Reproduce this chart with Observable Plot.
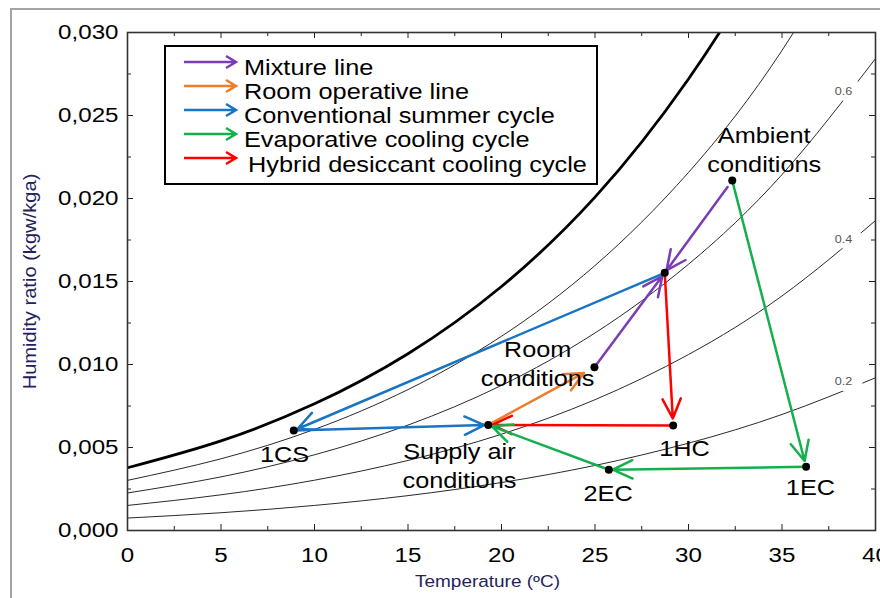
<!DOCTYPE html>
<html><head><meta charset="utf-8">
<script src="https://cdn.jsdelivr.net/npm/d3@7"></script>
<script src="https://cdn.jsdelivr.net/npm/@observablehq/plot@0.6"></script>
<style>
html,body{margin:0;padding:0;background:#fff;overflow:hidden;width:880px;height:598px;}
#wrap{position:relative;width:880px;height:598px;font-family:Arial,"Liberation Sans",sans-serif;overflow:hidden;}
#outer{position:absolute;left:10px;top:8px;width:900px;height:620px;border-left:2px solid #a3a3a3;border-top:2px solid #a3a3a3;}
#chart{position:absolute;left:0;top:0;}
#legend{position:absolute;left:164px;top:45px;width:430px;height:136px;border:2.5px solid #000;background:#fff;}
.ltext{position:absolute;font-size:22px;line-height:22px;color:#000;transform:scaleX(1.15);transform-origin:0 50%;white-space:nowrap;}
</style></head><body>
<div id="wrap"><div id="outer"></div><div id="chart"></div><div id="legend"></div></div>
<script>
// ---------- data ----------
const xTicks = [0, 5, 10, 15, 20, 25, 30, 35, 40];
const xMinorTicks = [2.5, 7.5, 12.5, 17.5, 22.5, 27.5, 32.5, 37.5];
const yTicks = [0, 0.005, 0.010, 0.015, 0.020, 0.025, 0.030];
const yMinorTicks = [0.0025, 0.0075, 0.0125, 0.0175, 0.0225, 0.0275];

// relative humidity curves (temperature °C -> humidity ratio)
const curveT = [0, 5, 10, 15, 20, 25, 30, 35, 40];
const rh100 = [0.00378, 0.00540, 0.00763, 0.01065, 0.01470, 0.02008, 0.02720, 0.03657, 0.04887];
const rh80  = [0.00302, 0.00432, 0.00609, 0.00849, 0.01170, 0.01596, 0.02157, 0.02892, 0.03849];
const rh60  = [0.00226, 0.00323, 0.00456, 0.00635, 0.00874, 0.01190, 0.01604, 0.02144, 0.02843];
const rh40  = [0.00151, 0.00215, 0.00303, 0.00422, 0.00580, 0.00788, 0.01060, 0.01413, 0.01867];
const rh20  = [0.00075, 0.00107, 0.00151, 0.00210, 0.00289, 0.00392, 0.00526, 0.00699, 0.00920];

const rhLabelText = ["0.6", "0.4", "0.2"];
const rhLabelT = [38.29, 38.29, 38.29];
const rhLabelW = [0.02646, 0.01753, 0.00898];

// state points
const pointName = ["Ambient", "Mix", "Room", "Supply", "1CS", "1HC", "1EC", "2EC"];
const pointT = [32.34, 28.73, 24.97, 19.29, 8.89, 29.18, 36.29, 25.74];
const pointW = [0.02108, 0.01552, 0.00984, 0.00636, 0.00602, 0.00633, 0.00384, 0.00366];

// process arrows
const arrowFrom   = ["Ambient", "Room", "Mix", "1CS", "Supply", "Mix", "1HC", "Ambient", "1EC", "2EC"];
const arrowTo     = ["Mix", "Mix", "1CS", "Supply", "Room", "1HC", "Supply", "1EC", "2EC", "Supply"];
const arrowSeries = ["Mixture line", "Mixture line", "Conventional summer cycle", "Conventional summer cycle",
  "Room operative line", "Hybrid desiccant cooling cycle", "Hybrid desiccant cooling cycle",
  "Evaporative cooling cycle", "Evaporative cooling cycle", "Evaporative cooling cycle"];

// legend
const seriesNames = ["Mixture line", "Room operative line", "Conventional summer cycle",
  "Evaporative cooling cycle", "Hybrid desiccant cooling cycle"];
const seriesColors = ["#7b3db5", "#ee7d2b", "#1a74c4", "#14b04c", "#ff0000"];

// text labels
const labelText = ["Ambient\nconditions", "Room\nconditions", "Supply air\nconditions", "1CS", "1HC", "2EC", "1EC"];
const labelT = [34.05, 21.93, 17.75, 8.40, 29.79, 25.70, 36.52];
const labelW = [0.02301, 0.01012, 0.00401, 0.0047, 0.00506, 0.00231, 0.00268];

// ---------- build ----------
const W = 880, H = 598, mL = 127, mR = 5, mT = 32, mB = 68;
const FW = W - mL - mR, FH = H - mT - mB;

const thinCurves = [[0.8, rh80], [0.6, rh60], [0.4, rh40], [0.2, rh20]]
  .flatMap(([lvl, arr]) => curveT.map((t, i) => ({T: t, w: arr[i], level: lvl})));
const satCurve = curveT.map((t, i) => ({T: t, w: rh100[i]}));

const pIdx = new Map(pointName.map((n, i) => [n, i]));
const colorOf = s => seriesColors[seriesNames.indexOf(s)];
const arrows = arrowFrom.map((f, i) => ({
  key: f + ">" + arrowTo[i],
  x1: pointT[pIdx.get(f)], y1: pointW[pIdx.get(f)],
  x2: pointT[pIdx.get(arrowTo[i])], y2: pointW[pIdx.get(arrowTo[i])],
  color: colorOf(arrowSeries[i])
}));
const arrowInsets = {"Ambient>Mix": [8, 3], "Supply>Room": [0, 12], "Mix>1HC": [0, 7], "Ambient>1EC": [0, 6]};

const rhLabels = rhLabelText.map((t, i) => ({text: t, T: rhLabelT[i], w: rhLabelW[i]}));
const labels = labelText.map((t, i) => ({text: t, T: labelT[i], w: labelW[i]}));

const tickStroke = "#222";
const marks = [
  Plot.line(thinCurves, {x: "T", y: "w", z: "level", curve: "natural", clip: true, stroke: "#2a2a2a", strokeWidth: 1}),
  Plot.line(satCurve, {x: "T", y: "w", curve: "natural", clip: true, stroke: "#000", strokeWidth: 2.8}),
  // gaps in the curves behind the contour labels
  Plot.dot(rhLabels, {x: "T", y: "w", dx: 7, r: 12, fill: "white", stroke: "none"}),
  Plot.text(rhLabels, {x: "T", y: "w", text: "text", fontSize: 11, fill: "#555"}),
  // inward ticks
  Plot.ruleX(xTicks, {x: d => d, insetTop: FH - 6, stroke: tickStroke}),
  Plot.ruleX(xTicks, {x: d => d, insetBottom: FH - 6, stroke: tickStroke}),
  Plot.ruleX(xMinorTicks, {x: d => d, insetTop: FH - 4, stroke: tickStroke}),
  Plot.ruleX(xMinorTicks, {x: d => d, insetBottom: FH - 4, stroke: tickStroke}),
  Plot.ruleY(yTicks, {y: d => d, insetRight: FW - 6, stroke: tickStroke}),
  Plot.ruleY(yTicks, {y: d => d, insetLeft: FW - 6, stroke: tickStroke}),
  Plot.ruleY(yMinorTicks, {y: d => d, insetRight: FW - 4, stroke: tickStroke}),
  Plot.ruleY(yMinorTicks, {y: d => d, insetLeft: FW - 4, stroke: tickStroke}),
  Plot.frame({stroke: "#333", strokeWidth: 1.6}),
  Plot.axisX(xTicks, {anchor: "bottom", tickSize: 0, tickPadding: 17, fontSize: 21, label: null, tickFormat: d => String(d)}),
  Plot.axisY(yTicks, {anchor: "left", tickSize: 0, tickPadding: 9, fontSize: 21, label: null, tickFormat: d => d.toFixed(3).replace(".", ",")}),
  Plot.text(["Temperature (ºC)"], {text: d => d, frameAnchor: "bottom", dy: 51, dx: -14, textAnchor: "middle", lineAnchor: "middle", fontSize: 16.5, fill: "#23235e", ariaLabel: "axis title"}),
  Plot.text(["Humidity ratio (kgw/kga)"], {text: d => d, frameAnchor: "left", dx: -97, rotate: -90, textAnchor: "middle", lineAnchor: "middle", fontSize: 17.5, fill: "#23235e", ariaLabel: "axis title"}),
  ...arrows.map(a => {
    const [s, e] = arrowInsets[a.key] || [0, 4];
    return Plot.arrow([a], {x1: "x1", y1: "y1", x2: "x2", y2: "y2", stroke: a.color, strokeWidth: 2.5,
      headLength: 13, headAngle: 50, insetStart: s, insetEnd: e});
  }),
  Plot.dot(pointName, {x: pointT, y: pointW, r: 4, fill: "#000"}),
  Plot.text(labels, {x: "T", y: "w", text: "text", fontSize: 22, lineHeight: 1.32, fill: "#000"})
];

const svg = Plot.plot({
  width: W, height: H, marginLeft: mL, marginRight: mR, marginTop: mT, marginBottom: mB,
  x: {domain: [0, 40]}, y: {domain: [0, 0.03]},
  style: {background: "transparent", fontFamily: "Arial, 'Liberation Sans', sans-serif", color: "#000"},
  marks
});

// horizontal stretch of text (the reference is horizontally stretched)
const S = 1.15;
svg.querySelectorAll("text").forEach(t => {
  if (t.closest('g[aria-label="axis title"]')) return;
  const x = parseFloat(t.getAttribute("x")) || 0;
  const tr = t.getAttribute("transform") || "";
  t.setAttribute("transform", `${tr} translate(${x * (1 - S)},0) scale(${S},1)`);
});
document.getElementById("chart").appendChild(svg);

// legend (HTML)
const leg = document.getElementById("legend");
seriesNames.forEach((name, i) => {
  const ay = 14.5 + i * 24.1;
  leg.insertAdjacentHTML("beforeend",
    `<svg style="position:absolute;left:18px;top:${ay - 8}px" width="58" height="16"><path d="M0,8H52M42,2L52,8L42,14" fill="none" stroke="${seriesColors[i]}" stroke-width="2.5"/></svg>`);
  const div = document.createElement("div");
  div.className = "ltext";
  div.textContent = name;
  div.style.left = (i === 4 ? 81.5 : 77.5) + "px";
  div.style.top = (9.75 + i * 24.2) + "px";
  leg.appendChild(div);
});
</script>
</body></html>
